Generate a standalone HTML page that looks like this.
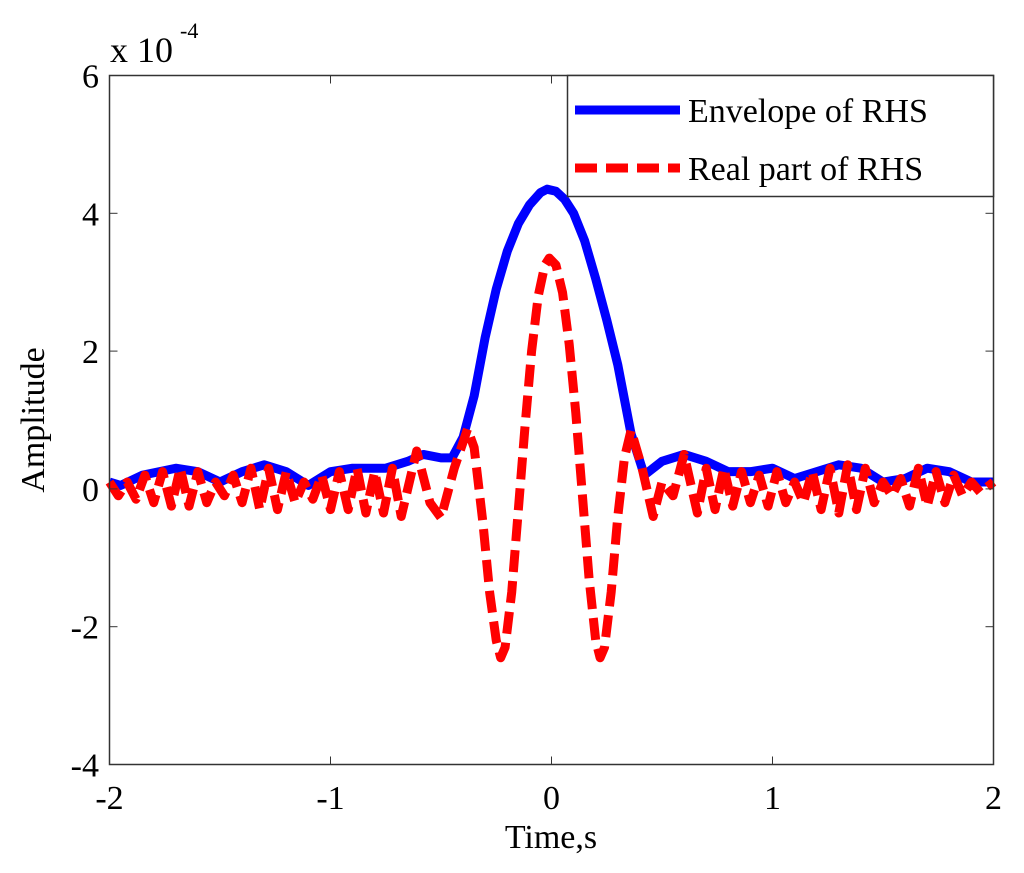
<!DOCTYPE html>
<html><head><meta charset="utf-8"><style>
body{margin:0;background:#fff;}
svg text{font-family:"Liberation Serif",serif;fill:#000;}
</style></head><body>
<svg id="chart" width="1024" height="868" viewBox="0 0 1024 868" xmlns="http://www.w3.org/2000/svg">
<rect x="0" y="0" width="1024" height="868" fill="#fff"/>
<g id="plot"></g>
<rect x="109.5" y="75.5" width="884" height="689" fill="none" stroke="#333" stroke-width="1.5"/>
<g id="ticks"></g>
<text x="110" y="62" font-size="36">x 10</text>
<text x="180" y="38" font-size="22">-4</text>
<text x="551" y="848" font-size="34" text-anchor="middle">Time,s</text>
<text transform="translate(44,420) rotate(-90)" font-size="34" text-anchor="middle">Amplitude</text>
<g>
<rect x="567.5" y="75.5" width="426" height="121" fill="#fff" stroke="#333" stroke-width="1.5"/>
<line x1="575" y1="110" x2="680" y2="110" stroke="#0000ff" stroke-width="9"/>
<text x="688" y="122" font-size="34">Envelope of RHS</text>
<line x1="575" y1="168" x2="680" y2="168" stroke="#ff0000" stroke-width="9" stroke-dasharray="22,9"/>
<text x="688" y="180" font-size="34">Real part of RHS</text>
</g>
</svg>
<script>
const xTicks=[-2,-1,0,1,2];
const yTicks=[-4,-2,0,2,4,6];
const envT=[-2,-1.95,-1.85,-1.7,-1.6,-1.5,-1.4,-1.3,-1.2,-1.1,-1.0,-0.9,-0.75,-0.65,-0.58,-0.5,-0.45,-0.4,-0.35,-0.3,-0.25,-0.2,-0.15,-0.1,-0.05,-0.02,0.02,0.06,0.1,0.15,0.2,0.25,0.3,0.36,0.42,0.5,0.6,0.7,0.8,0.9,1.0,1.1,1.2,1.3,1.4,1.5,1.6,1.7,1.8,1.9,2];
const envV=[0.1,0.05,0.2,0.3,0.25,0.1,0.25,0.35,0.25,0.05,0.25,0.3,0.3,0.4,0.5,0.45,0.45,0.75,1.35,2.2,2.9,3.45,3.85,4.12,4.3,4.35,4.32,4.2,4.0,3.6,3.05,2.45,1.8,0.8,0.2,0.4,0.5,0.4,0.25,0.25,0.3,0.15,0.25,0.35,0.3,0.1,0.15,0.3,0.25,0.1,0.1];
const realT=[-2,-1.96,-1.92,-1.88,-1.84,-1.8,-1.76,-1.72,-1.68,-1.64,-1.6,-1.56,-1.52,-1.48,-1.44,-1.4,-1.36,-1.32,-1.28,-1.24,-1.2,-1.16,-1.12,-1.08,-1.04,-1.0,-0.96,-0.92,-0.88,-0.84,-0.8,-0.76,-0.72,-0.68,-0.61,-0.55,-0.5,-0.44,-0.38,-0.35,-0.31,-0.28,-0.25,-0.23,-0.21,-0.18,-0.15,-0.12,-0.09,-0.06,-0.03,-0.01,0.02,0.05,0.08,0.11,0.14,0.17,0.2,0.22,0.24,0.27,0.3,0.33,0.36,0.41,0.46,0.5,0.55,0.6,0.66,0.7,0.74,0.78,0.82,0.86,0.9,0.94,0.98,1.02,1.06,1.1,1.14,1.18,1.22,1.26,1.3,1.34,1.38,1.42,1.46,1.5,1.54,1.58,1.62,1.66,1.7,1.74,1.78,1.82,1.86,1.9,1.94,1.98,2];
const realV=[0.1,-0.1,0.1,-0.15,0.2,-0.2,0.25,-0.25,0.3,-0.25,0.25,-0.2,0.1,-0.1,0.2,-0.2,0.3,-0.3,0.3,-0.3,0.25,-0.2,0.1,-0.15,0.2,-0.3,0.25,-0.3,0.3,-0.35,0.25,-0.35,0.3,-0.4,0.55,-0.2,-0.42,0.3,0.87,0.6,-0.5,-1.5,-2.2,-2.45,-2.3,-1.5,-0.3,0.9,2.0,2.8,3.25,3.35,3.25,2.85,2.1,1.1,-0.1,-1.3,-2.2,-2.45,-2.3,-1.5,-0.4,0.45,0.85,0.3,-0.4,0.1,-0.1,0.5,-0.35,0.3,-0.3,0.3,-0.25,0.25,-0.2,0.2,-0.25,0.25,-0.2,0.1,-0.2,0.25,-0.3,0.3,-0.35,0.35,-0.3,0.3,-0.2,0.1,-0.1,0.15,-0.25,0.3,-0.25,0.25,-0.2,0.2,-0.1,0.1,-0.05,0.05,0.1];
const X0=109.5,X1=993.5,Y0=764.5,Y1=75.5;
const xs=v=>X0+(v+2)/4*(X1-X0);
const ys=v=>Y0-(v+4)/10*(Y0-Y1);
const NS='http://www.w3.org/2000/svg';
const plot=document.getElementById('plot'),tk=document.getElementById('ticks');
function mk(tag,at,parent){const e=document.createElementNS(NS,tag);for(const k in at)e.setAttribute(k,at[k]);parent.appendChild(e);return e;}
xTicks.forEach(v=>{
 const t=mk('text',{x:xs(v),y:809,'font-size':34,'text-anchor':'middle'},tk);
 t.textContent=v;
 
 
 mk('line',{x1:xs(v),x2:xs(v),y1:Y0,y2:Y0-8,stroke:'#333','stroke-width':1},tk);
 mk('line',{x1:xs(v),x2:xs(v),y1:Y1,y2:Y1+8,stroke:'#333','stroke-width':1},tk);
});
yTicks.forEach(v=>{
 const t=mk('text',{x:99,y:ys(v)+12,'font-size':34,'text-anchor':'end'},tk);
 t.textContent=v;
 
 
 mk('line',{x1:X0,x2:X0+8,y1:ys(v),y2:ys(v),stroke:'#333','stroke-width':1},tk);
 mk('line',{x1:X1,x2:X1-8,y1:ys(v),y2:ys(v),stroke:'#333','stroke-width':1},tk);
});
const env=mk('polyline',{points:envT.map((t,i)=>xs(t)+','+ys(envV[i])).join(' '),fill:'none',stroke:'#0000ff','stroke-width':9,'stroke-linejoin':'round'},plot);


const re=mk('polyline',{points:realT.map((t,i)=>xs(t)+','+ys(realV[i])).join(' '),fill:'none',stroke:'#ff0000','stroke-width':9,'stroke-dasharray':'22,9','stroke-linejoin':'round'},plot);


</script>
</body></html>
